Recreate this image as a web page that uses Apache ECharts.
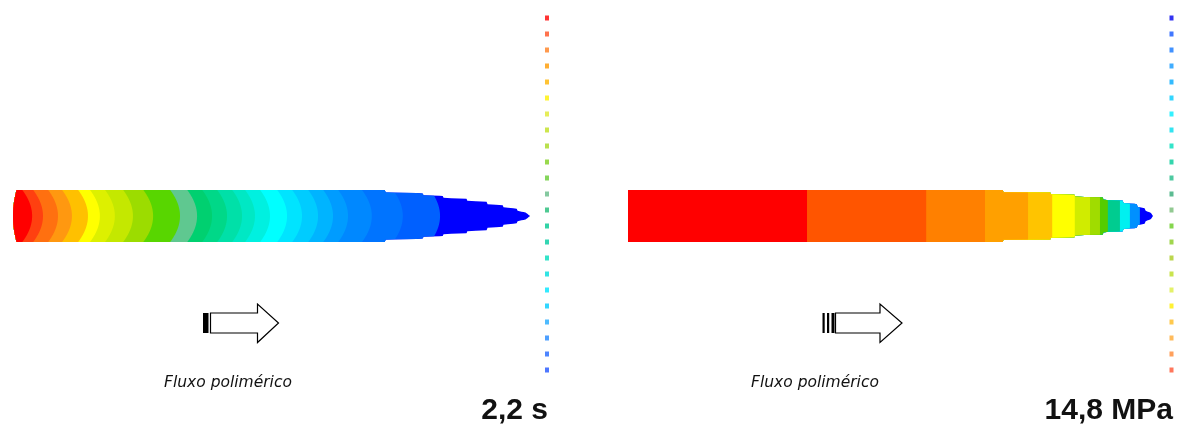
<!DOCTYPE html>
<html><head><meta charset="utf-8">
<script src="https://cdn.jsdelivr.net/npm/echarts@6/dist/echarts.min.js"></script>
<style>html,body{margin:0;padding:0;background:#fff}#c{width:1179px;height:429px}</style>
</head><body><div id="c"></div>
<script>
// ---- Left plot: fill time contour (position along flow, % of flow length) ----
const leftBandEnds = [3.7,5.8,8.7,11.4,14.5,16.8,19.7,23.2,27.1,32.3,35.6,38.5,41.4,44.3,46.8,49.7,53.0,55.9,59.0,61.9,64.8,69.4,75.4,82.6,100];
const leftBandColors = ['#FF0000','#FF4010','#FF7010','#FF9810','#FFC000','#FFFF00','#DDF000','#C4E800','#9CDC00','#58D600','#5FC890','#00D070','#00D888','#00E0A8','#00E8C4','#00F0E0','#00FFFF','#00E4FF','#00CCFF','#00B4FF','#009CFF','#0088FF','#0074FF','#0060FF','#0000FF'];
const leftProfileX = [0,71.9,72.1,79.2,79.4,83.1,83.3,87.7,87.9,91.6,91.8,94.7,94.9,97.4,97.6,99.2,100];
const leftProfileH = [1,1,0.9,0.88,0.8,0.78,0.69,0.67,0.58,0.55,0.45,0.42,0.33,0.29,0.2,0.13,0];

// ---- Right plot: pressure contour ----
const rightBandEnds = [34.1,56.8,68.0,76.2,80.8,85.1,88.0,89.9,91.4,93.7,95.6,97.5,100];
const rightBandColors = ['#FF0000','#FF5500','#FF8000','#FFA000','#FFC400','#FFFF00','#D0EC00','#A0DC00','#55CC00','#00CC90','#00F0F0','#0090FF','#0000FF'];
const rightProfileX = [0,71.4,71.5,80.4,80.5,85.0,85.2,90.4,90.6,94.2,94.4,96.9,97.1,98.4,98.6,99.6,100];
const rightProfileH = [1,1,0.91,0.91,0.83,0.83,0.74,0.72,0.62,0.6,0.5,0.46,0.35,0.3,0.2,0.12,0];

// ---- Colour scales (top to bottom) ----
const leftScaleColors = ['#FF0000','#FF5020','#FF8020','#FF9A00','#FFB400','#FFF000','#E0E830','#C0E020','#A8D820','#80D020','#66CC33','#66BB88','#22BB77','#00C890','#00CCA0','#00DDBB','#00DDDD','#00E5FF','#00CCFF','#22AAFF','#2288FF','#2266FF','#2255FF'];
const rightScaleColors = ['#0000EE','#1155FF','#1177FF','#1199FF','#00AAFF','#00CCFF','#00EEFF','#00DDEE','#00DDBB','#00CC99','#22BB88','#33AA77','#77BB77','#66CC22','#88CC22','#AACC22','#BBDD22','#DDEE44','#FFEE00','#FFBB22','#FFAA33','#FF8833','#FF5533'];

const flowLabel = 'Fluxo polimérico';
const leftValueLabel = '2,2 s';
const rightValueLabel = '14,8 MPa';

function makeBandRender(ends, colors, profX, profH, edgeBulge, arcBulge) {
  function hinv(t) {
    const n = profX.length;
    for (let k = n - 2; k >= 0; k--) {
      if (profH[k] >= t) {
        const h0 = profH[k], h1 = profH[k + 1];
        if (h0 === h1) return profX[k + 1];
        const f = Math.min(1, Math.max(0, (h0 - t) / (h0 - h1)));
        return profX[k] + f * (profX[k + 1] - profX[k]);
      }
    }
    return profX[0];
  }
  return function (params, api) {
    const i = api.value(0);
    const last = i === ends.length - 1;
    const N = 120;
    const pts = [];
    for (let k = 0; k <= N; k++) {
      const y = 1 - 2 * k / N;
      pts.push(api.coord([edgeBulge * y * y, y]));
    }
    for (let k = 0; k <= N; k++) {
      const y = -1 + 2 * k / N;
      const xr = last ? Infinity : ends[i] - arcBulge * y * y;
      const x = Math.min(xr, hinv(Math.abs(y)));
      pts.push(api.coord([x, y]));
    }
    return { type: 'polygon', shape: { points: pts }, style: { fill: colors[i], stroke: null } };
  };
}

function bandData(ends) {
  const d = [];
  for (let i = ends.length - 1; i >= 0; i--) d.push([i]);
  return d;
}

const chart = echarts.init(document.getElementById('c'), null, { renderer: 'canvas' });
const flowFont = 'oblique 15.5px "DejaVu Sans", sans-serif';
const valueFont = 'bold 30px "Liberation Sans", Arial, sans-serif';
const option = {
  backgroundColor: '#ffffff',
  animation: false,
  grid: [
    { left: 13, width: 517, top: 190, height: 52 },
    { left: 628, width: 525, top: 190, height: 52 },
    { left: 545, width: 4, top: 18, height: 352 },
    { left: 1169.5, width: 4, top: 18, height: 352 }
  ],
  xAxis: [
    { type: 'value', gridIndex: 0, min: 0, max: 100, show: false },
    { type: 'value', gridIndex: 1, min: 0, max: 100, show: false },
    { type: 'value', gridIndex: 2, min: 0, max: 1, show: false },
    { type: 'value', gridIndex: 3, min: 0, max: 1, show: false }
  ],
  yAxis: [
    { type: 'value', gridIndex: 0, min: -1, max: 1, show: false },
    { type: 'value', gridIndex: 1, min: -1, max: 1, show: false },
    { type: 'value', gridIndex: 2, min: 0, max: 22, inverse: true, show: false },
    { type: 'value', gridIndex: 3, min: 0, max: 22, inverse: true, show: false }
  ],
  series: [
    { type: 'custom', xAxisIndex: 0, yAxisIndex: 0, silent: true, clip: false,
      renderItem: makeBandRender(leftBandEnds, leftBandColors, leftProfileX, leftProfileH, 0.7, 1.9),
      data: bandData(leftBandEnds) },
    { type: 'custom', xAxisIndex: 1, yAxisIndex: 1, silent: true, clip: false,
      renderItem: makeBandRender(rightBandEnds, rightBandColors, rightProfileX, rightProfileH, 0, 0),
      data: bandData(rightBandEnds) },
    { type: 'scatter', xAxisIndex: 2, yAxisIndex: 2, silent: true, symbol: 'rect', symbolSize: [4, 5],
      data: leftScaleColors.map((c, i) => ({ value: [0.5, i], itemStyle: { color: c } })) },
    { type: 'scatter', xAxisIndex: 3, yAxisIndex: 3, silent: true, symbol: 'rect', symbolSize: [4, 5],
      data: rightScaleColors.map((c, i) => ({ value: [0.5, i], itemStyle: { color: c } })) }
  ],
  graphic: [
    { type: 'rect', shape: { x: 203, y: 313, width: 5.5, height: 20 }, style: { fill: '#000' } },
    { type: 'polygon', shape: { points: [[210.5,313],[257.5,313],[257.5,304],[278.5,323],[257.5,342.5],[257.5,333],[210.5,333]] },
      style: { fill: '#fff', stroke: '#000', lineWidth: 1.2 } },
    { type: 'rect', shape: { x: 822.5, y: 313, width: 2.2, height: 20 }, style: { fill: '#000' } },
    { type: 'rect', shape: { x: 827, y: 313, width: 2.2, height: 20 }, style: { fill: '#000' } },
    { type: 'rect', shape: { x: 831.5, y: 313, width: 3, height: 20 }, style: { fill: '#000' } },
    { type: 'polygon', shape: { points: [[835.5,313],[880,313],[880,304],[902,323],[880,342.5],[880,333],[835.5,333]] },
      style: { fill: '#fff', stroke: '#000', lineWidth: 1.2 } },
    { type: 'text', style: { text: flowLabel, x: 164, y: 383, font: flowFont,
      fill: '#111', align: 'left', verticalAlign: 'middle', textAlign: 'left', textVerticalAlign: 'middle' } },
    { type: 'text', style: { text: flowLabel, x: 751, y: 383, font: flowFont,
      fill: '#111', align: 'left', verticalAlign: 'middle', textAlign: 'left', textVerticalAlign: 'middle' } },
    { type: 'text', style: { text: leftValueLabel, x: 548, y: 411, font: valueFont,
      fill: '#111', align: 'right', verticalAlign: 'middle', textAlign: 'right', textVerticalAlign: 'middle' } },
    { type: 'text', style: { text: rightValueLabel, x: 1173, y: 411, font: valueFont,
      fill: '#111', align: 'right', verticalAlign: 'middle', textAlign: 'right', textVerticalAlign: 'middle' } }
  ]
};
chart.setOption(option);
</script>
</body></html>
